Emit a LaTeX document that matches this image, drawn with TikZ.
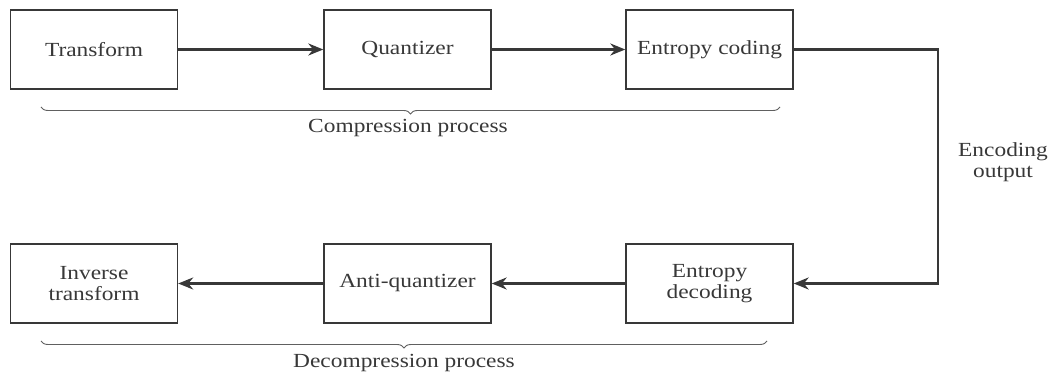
\documentclass[tikz,border=0pt]{standalone}
\usepackage{fontspec}
\setmainfont[FakeStretch=1.17]{Liberation Serif}
\usetikzlibrary{arrows.meta}
\usetikzlibrary{decorations.pathreplacing}
\usepackage{xcolor}
\definecolor{inkgray}{HTML}{383838}

\begin{document}
\begin{tikzpicture}[x=1pt, y=1pt,
        every node/.style={font=\fontsize{20}{21}\selectfont, text=inkgray},
        block/.style={draw=inkgray, line width=1.4pt, minimum width=167pt, minimum height=79pt, align=center, inner sep=0pt},
        flow/.style={draw=inkgray, line width=2.4pt, ->},
        >={Stealth[length=15pt, width=12pt]},
        bracket/.style={draw=inkgray!80, line width=0.9pt, decorate, decoration={brace, mirror, amplitude=7pt}}]
        \useasboundingbox (0,0) rectangle (1053,374);

        % compression
        \node[block] (T) at (94,324.5) {Transform};
        \node[block] (Q) at (407.5,324.5) {Quantizer};
        \node[block] (EC) at (709.5,324.5) {Entropy coding};

        % decompression
        \node[block] (IT) at (94,90.5) {Inverse\\transform};
        \node[block] (AQ) at (407.5,90.5) {Anti-quantizer};
        \node[block] (ED) at (709.5,90.5) {Entropy\\decoding};

        \coordinate (K1) at (938,324.5);
        \coordinate (K2) at (938,90.5);

        \draw[flow] (T) -- (Q);
        \draw[flow] (Q) -- (EC);
        \draw[flow] (EC) -- (K1) -- (K2) -- (ED);
        \draw[flow] (ED) -- (AQ);
        \draw[flow] (AQ) -- (IT);

        \node[align=center] (out) at (1003,212) {Encoding\\output};

        \coordinate (B1) at (41,267);
        \coordinate (B2) at (780,267);
        \coordinate (B3) at (41,33);
        \coordinate (B4) at (767,33);
        \draw[bracket] (B1) -- (B2);
        \draw[bracket] (B3) -- (B4);
        \node (comp) at (408,246) {Compression process};
        \node (decomp) at (404,11) {Decompression process};
    \end{tikzpicture}
\end{document}
